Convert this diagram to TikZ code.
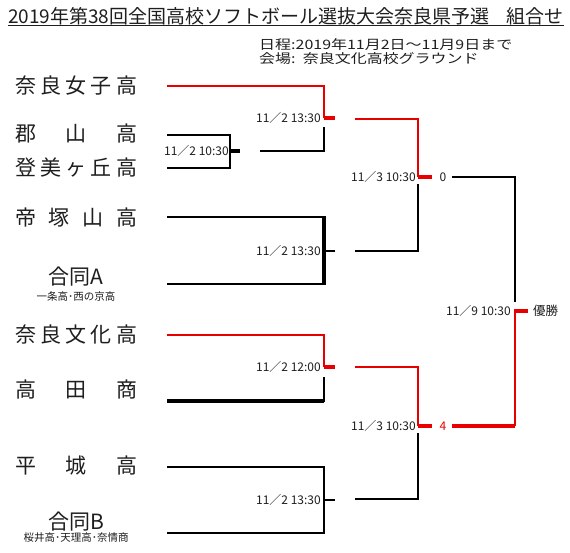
\documentclass[tikz,border=0pt]{standalone}
\usepackage{graphicx}
\usepackage{fontspec}
\setmainfont{Noto Sans CJK JP}
\definecolor{wred}{RGB}{232,0,0}
\definecolor{ink}{RGB}{30,30,30}
\newcommand\spr[1]{\makebox[122pt][s]{#1}}
\begin{document}
\begin{tikzpicture}[x=1pt,y=-1pt,
  team/.style={font=\fontsize{21}{21}\selectfont, inner sep=0, anchor=west, text=ink},
  sub/.style={font=\fontsize{10.5}{10.5}\selectfont, inner sep=0, text=ink},
  date/.style={font=\fontsize{12}{12}\selectfont, inner sep=0, anchor=east, text=ink},
  info/.style={anchor=west, inner sep=0, font=\fontsize{13}{13}\selectfont, text=ink},
  ln/.style={line width=1.7pt, draw=black},
  thk/.style={line width=3.4pt, draw=black},
  win/.style={line width=1.9pt, draw=wred},
  winthk/.style={line width=3.6pt, draw=wred}]
\useasboundingbox (0,0) rectangle (570,552);
% title
\node[anchor=west, inner sep=0, font=\fontsize{19}{19}\selectfont, text=ink] (title) at (8,16) {2019年第38回全国高校ソフトボール選抜大会奈良県予選\hspace{0.9em}組合せ};
\draw[line width=0.9pt, ink] ([yshift=0pt]title.south west) -- ([yshift=0pt]title.south east);
\node[info] (sched) at (259,45) {\scalebox{1.23}[1]{日程:2019年11月2日～11月9日まで}};
\node[info] (venue) at (259,59) {\scalebox{1.23}[1]{会場:\hspace{0.45em}奈良文化高校グラウンド}};
% teams
\node[team] (t1) at (15,86) {\spr{奈\hfill 良\hfill 女\hfill 子\hfill 高}};
\node[team] (t2) at (15,134) {\spr{郡\hfill 山\hfill 高}};
\node[team] (t3) at (15,168) {\spr{登\hfill 美\hfill ヶ\hfill 丘\hfill 高}};
\node[team] (t4) at (15,218) {\spr{帝\hfill 塚\hfill 山\hfill 高}};
\node[team, anchor=center] (t5) at (76,277) {合同A};
\node[sub] (t5s) at (76,296) {一条高･西の京高};
\node[team] (t6) at (15,335) {\spr{奈\hfill 良\hfill 文\hfill 化\hfill 高}};
\node[team] (t7) at (15,390) {\spr{高\hfill 田\hfill 商}};
\node[team] (t8) at (15,466) {\spr{平\hfill 城\hfill 高}};
\node[team, anchor=center] (t9) at (76,522) {合同B};
\node[sub] (t9s) at (76,538) {桜井高･天理高･奈情商};
% start points
\coordinate (s1) at (167,86);
\coordinate (s2) at (167,135);
\coordinate (s3) at (167,168);
\coordinate (s4) at (167,217);
\coordinate (s5) at (167,284);
\coordinate (s6) at (167,335);
\coordinate (s7) at (167,401);
\coordinate (s8) at (167,467);
\coordinate (s9) at (167,533);
% match 1 (10:30)
\coordinate (m1) at (230,151);
\draw[ln] (s2) -| (m1) |- (s3);
\draw[thk] (m1) -- ++(10,0);
\node[date] (d1) at (229,151) {11／2 10:30};
% match 2 (13:30)
\coordinate (m2) at (324,118);
\coordinate (m2b) at (324,127);
\coordinate (m1o) at (260,151);
\draw[win] (s1) -| (m2);
\draw[winthk] (m2) -- ++(11,0);
\draw[ln] (m1o) -| (m2b);
\node[date] (d2) at (321,118) {11／2 13:30};
% match 3 (13:30)
\coordinate (m3) at (324,251);
\draw[ln] (s4) -| (m3);
\draw[ln] (s5) -| (m3);
\draw[thk] (324,216) -- (324,285);
\draw[ln] (m3) -- ++(11,0);
\node[date] (d3) at (321,251) {11／2 13:30};
% match 4 (12:00)
\coordinate (m4) at (324,367);
\coordinate (m4b) at (324,377);
\draw[win] (s6) -| (m4);
\draw[winthk] (m4) -- ++(11,0);
\draw[thk] (s7) -- (324,401);
\draw[ln] (324,402) -- (m4b);
\node[date] (d4) at (321,367) {11／2 12:00};
% match 5 (13:30)
\coordinate (m5) at (324,500);
\draw[ln] (s8) -| (m5) |- (s9);
\draw[ln] (m5) -- ++(11,0);
\node[date] (d5) at (321,500) {11／2 13:30};
% semi 1
\coordinate (q1a) at (355,119);
\coordinate (q1) at (418,177);
\coordinate (q1b) at (355,251);
\coordinate (q1c) at (418,184);
\draw[win] (q1a) -| (q1);
\draw[winthk] (q1) -- ++(14,0);
\draw[ln] (q1b) -| (q1c);
\node[date] (d6) at (416,177) {11／3 10:30};
\node[inner sep=0, font=\fontsize{12}{12}\selectfont, text=ink] (sc1) at (443,177) {0};
% semi 2
\coordinate (q2a) at (355,367);
\coordinate (q2) at (418,426);
\coordinate (q2b) at (355,499);
\coordinate (q2c) at (418,433);
\draw[win] (q2a) -| (q2);
\draw[winthk] (q2) -- ++(14,0);
\draw[ln] (q2b) -| (q2c);
\node[date] (d7) at (416,426) {11／3 10:30};
\node[inner sep=0, font=\fontsize{12}{12}\selectfont, text=wred] (sc2) at (443,426) {4};
% final
\coordinate (f0) at (452,177);
\coordinate (fa) at (515,302);
\coordinate (f1) at (452,426);
\coordinate (fb) at (515,426);
\coordinate (fc) at (515,311);
\draw[ln] (f0) -| (fa);
\draw[winthk] (f1) -- (fb);
\draw[win] (fb) -- (fc);
\draw[winthk] (514,311) -- (528,311);
\node[date] (d8) at (511,311) {11／9 10:30};
\node[anchor=west, inner sep=0, font=\fontsize{12.5}{12.5}\selectfont, text=ink] (champ) at (533,311) {優勝};
\end{tikzpicture}
\end{document}
